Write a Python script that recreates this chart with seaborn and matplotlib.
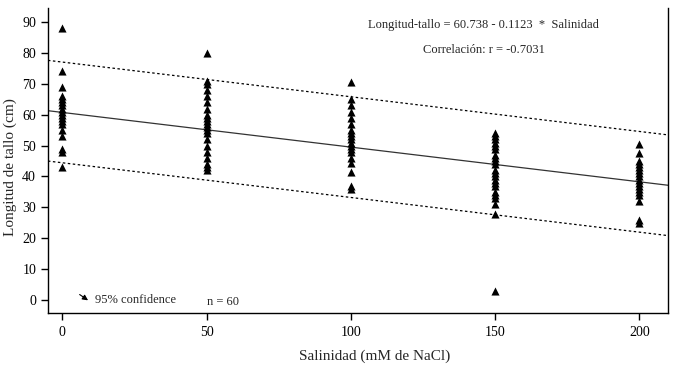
"""Longitud de tallo vs salinidad"""
import numpy as np
import pandas as pd
import matplotlib
matplotlib.use("Agg")
import matplotlib.pyplot as plt
import seaborn as sns


### Data
sal_0 = [88, 74, 69, 66, 65, 64, 63, 62, 61, 60, 59, 58, 57, 55, 53, 49, 48, 43]
sal_50 = [80, 71, 70, 68, 66, 64, 62, 60, 59, 58, 57, 56, 55, 54, 52, 50, 48, 46, 44, 43, 42]
sal_100 = [70.5, 65, 63, 61, 59, 57, 55, 54, 53, 52, 51, 50, 49, 48, 46, 44.5, 41.5, 37, 36]
sal_150 = [54, 53, 52, 51, 50, 49, 47, 46, 45, 44, 42, 41, 40, 39, 38, 37, 35, 34, 33, 31, 28, 3]
sal_200 = [50.5, 47.5, 45, 44, 43, 42, 41, 40, 39, 38, 37, 36, 35, 34, 32, 26, 25]

salinity_levels = [0, 50, 100, 150, 200]
x_ticks = [0, 50, 100, 150, 200]
y_ticks = [0, 10, 20, 30, 40, 50, 60, 70, 80, 90]

intercept = 60.738
slope = -0.1123
band = 16.3   # half width of the 95% band

rows = []
for lvl, vals in zip(salinity_levels, [sal_0, sal_50, sal_100, sal_150, sal_200]):
    for v in vals:
        rows.append((lvl, v))
data = pd.DataFrame(rows, columns=["salinidad", "longitud"])

xs = np.array([-5, 210])
fit = pd.DataFrame({"x": xs, "y": intercept + slope * xs})

sns.set_style("ticks")
plt.rcParams["font.family"] = ["Liberation Serif", "DejaVu Serif"]

fig = plt.figure(figsize=(6.75, 3.7), dpi=100)
ax = fig.add_axes([0.071, 0.154, 0.919, 0.824])

sns.lineplot(data=fit, x="x", y="y", ax=ax, color="#333333", lw=0.9)
ax.plot(xs, fit["y"] + band, color="black", lw=0.9, ls=(0, (2, 2)))
ax.plot(xs, fit["y"] - band, color="black", lw=0.9, ls=(0, (2, 2)))

sns.scatterplot(data=data, x="salinidad", y="longitud", ax=ax, marker="^",
                color="black", s=34, edgecolor="black", linewidth=0, zorder=3)

ax.set_xlim(-5, 210)
ax.set_ylim(-4.2, 94.5)
ax.set_xticks(x_ticks)
ax.set_yticks(y_ticks)
ax.tick_params(labelsize=10, length=5, width=1, colors="black")
ax.tick_params(axis="x", pad=4)
for s in ["left", "bottom", "right"]:
    ax.spines[s].set_color("black")
    ax.spines[s].set_linewidth(1)
ax.spines["top"].set_visible(False)

ax.set_xlabel("Salinidad (mM de NaCl)", fontsize=11)
ax.set_ylabel("Longitud de tallo (cm)", fontsize=11)
ax.xaxis.set_label_coords(0.527, -0.12)
ax.yaxis.set_label_coords(-0.05, 0.48)

ax.text(146, 89, "Longitud-tallo = 60.738 - 0.1123  *  Salinidad",
        ha="center", va="center", fontsize=9)
ax.text(146, 81, "Correlación: r = -0.7031", ha="center", va="center", fontsize=9)

ax.annotate("", xy=(9.7, -0.6), xytext=(5.2, 2.3),
            arrowprops=dict(arrowstyle="-|>", color="black", lw=0.8, mutation_scale=8))
ax.text(11.2, 0, "95% confidence", ha="left", va="center", fontsize=9)
ax.text(50, -0.6, "n = 60", ha="left", va="center", fontsize=9)

fig.savefig("out.png", dpi=100)
